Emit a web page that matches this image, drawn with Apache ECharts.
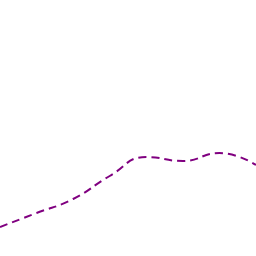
<!DOCTYPE html>
<html>
<head>
<meta charset="utf-8">
<script src="https://cdn.jsdelivr.net/npm/echarts@6/dist/echarts.min.js"></script>
<style>
  html, body { margin: 0; padding: 0; background: #fff; }
  #chart { width: 256px; height: 256px; }
</style>
</head>
<body>
<div id="chart"></div>
<script>
const categories = ["1", "2", "3", "4", "5", "6", "7", "8"];
const seriesValues = [29, 43, 57, 80, 99, 95, 103, 91];

const chart = echarts.init(document.getElementById("chart"));
chart.setOption({
  animation: false,
  grid: { left: 0, right: 0, top: 0, bottom: 0 },
  xAxis: {
    type: "category",
    data: categories,
    boundaryGap: false,
    show: false,
  },
  yAxis: {
    type: "value",
    min: 0,
    max: 256,
    show: false,
  },
  series: [
    {
      type: "line",
      data: seriesValues,
      smooth: true,
      symbol: "none",
      lineStyle: { color: "#800080", width: 2, type: [8, 5] },
    },
  ],
});
</script>
</body>
</html>
